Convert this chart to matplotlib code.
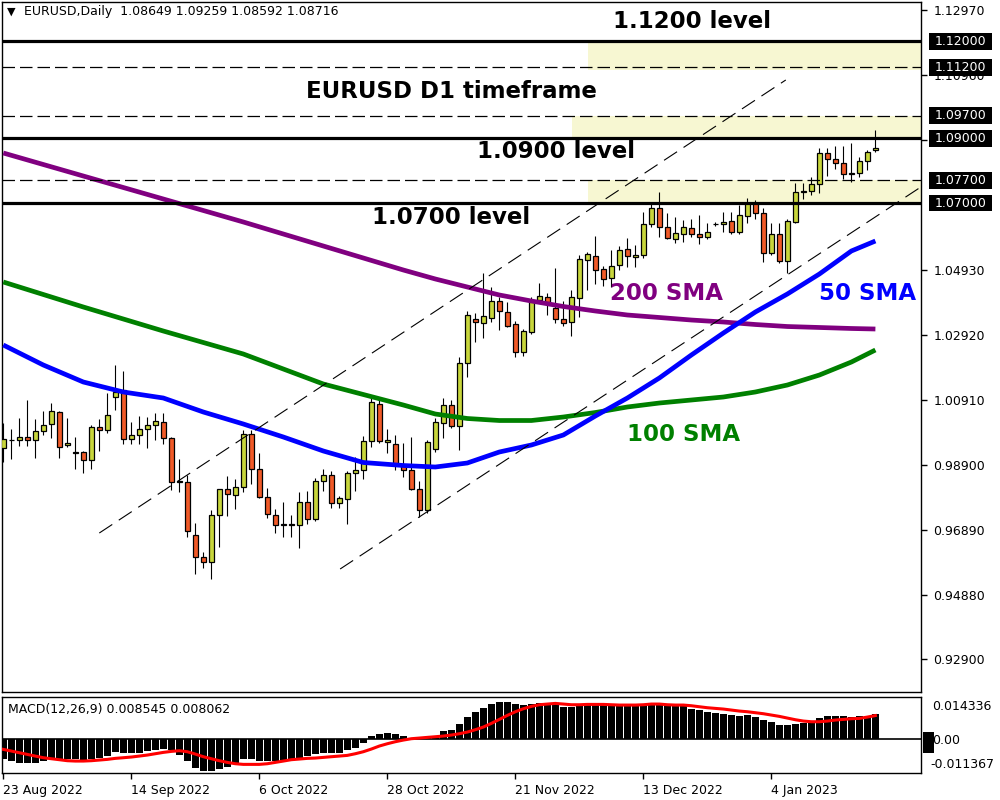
import matplotlib
matplotlib.use("Agg")
import matplotlib.pyplot as plt
from matplotlib.patches import Rectangle
from matplotlib.transforms import blended_transform_factory

plt.rcParams['font.family'] = ['DejaVu Sans']

# ---------------- data ----------------
header = "EURUSD,Daily  1.08649 1.09259 1.08592 1.08716"
macd_header = "MACD(12,26,9) 0.008545 0.008062"

opens = [0.9942,0.9968,0.9966,0.9975,0.9966,0.9994,1.0016,1.0054,0.9951,0.9929,
 0.9930,0.9904,1.0006,0.9997,1.0100,1.0122,0.9969,0.9983,1.0002,1.0014,
 1.0023,0.9974,0.9838,0.9837,0.9673,0.9606,0.9591,0.9734,0.9816,0.9797,
 0.9823,0.9986,0.9877,0.9790,0.9735,0.9705,0.9706,0.9703,0.9774,0.9722,
 0.9840,0.9858,0.9771,0.9784,0.9866,0.9873,0.9963,1.0079,0.9962,0.9955,
 0.9887,0.9874,0.9817,0.9751,0.9940,1.0019,1.0075,1.0011,1.0206,1.0340,
 1.0328,1.0346,1.0397,1.0363,1.0326,1.0240,1.0302,1.0399,1.0411,1.0374,
 1.0341,1.0331,1.0405,1.0525,1.0535,1.0496,1.0467,1.0507,1.0558,1.0533,
 1.0538,1.0636,1.0684,1.0625,1.0589,1.0604,1.0624,1.0604,1.0594,1.0634,
 1.0636,1.0646,1.0611,1.0661,1.0701,1.0668,1.0547,1.0603,1.0522,1.0640,
 1.0733,1.0736,1.0759,1.0854,1.0835,1.0823,1.0790,1.0793,1.0831,1.08649]

highs = [1.0019,1.0000,1.0034,1.0091,1.0031,1.0056,1.0081,1.0056,1.0034,0.9975,
 0.9932,1.0013,1.0031,1.0112,1.0198,1.0180,1.0024,1.0042,1.0037,1.0052,
 1.0050,0.9978,0.9908,0.9858,0.9709,0.9622,0.9751,0.9817,0.9855,0.9846,
 0.9999,0.9998,0.9926,0.9818,0.9753,0.9774,0.9735,0.9805,0.9809,0.9849,
 0.9877,0.9871,0.9794,0.9872,0.9916,0.9980,1.0101,1.0091,1.0000,0.9983,
 0.9957,0.9978,0.9841,0.9967,1.0034,1.0096,1.0091,1.0225,1.0366,1.0359,
 1.0483,1.0439,1.0411,1.0395,1.0335,1.0311,1.0410,1.0452,1.0421,1.0498,
 1.0397,1.0431,1.0539,1.0549,1.0598,1.0505,1.0555,1.0567,1.0591,1.0569,
 1.0673,1.0699,1.0735,1.0668,1.0658,1.0648,1.0650,1.0663,1.0637,1.0640,
 1.0673,1.0673,1.0694,1.0715,1.0710,1.0684,1.0637,1.0637,1.0650,1.0761,
 1.0761,1.0780,1.0869,1.0869,1.0877,1.0877,1.0887,1.0841,1.0864,1.09259]

lows = [0.9900,0.9909,0.9950,0.9950,0.9913,0.9982,0.9972,0.9910,0.9946,0.9877,
 0.9864,0.9877,0.9933,0.9990,1.0060,0.9956,0.9956,0.9956,0.9942,0.9966,
 0.9954,0.9813,0.9807,0.9666,0.9552,0.9571,0.9536,0.9635,0.9732,0.9753,
 0.9805,0.9831,0.9788,0.9725,0.9680,0.9668,0.9666,0.9633,0.9706,0.9718,
 0.9811,0.9756,0.9756,0.9706,0.9808,0.9848,0.9945,0.9957,0.9926,0.9874,
 0.9854,0.9813,0.9730,0.9740,0.9930,0.9973,1.0004,0.9936,1.0163,1.0271,
 1.0282,1.0331,1.0306,1.0316,1.0223,1.0227,1.0295,1.0390,1.0354,1.0330,
 1.0320,1.0289,1.0349,1.0431,1.0450,1.0443,1.0441,1.0493,1.0503,1.0501,
 1.0529,1.0627,1.0596,1.0588,1.0576,1.0581,1.0596,1.0573,1.0588,1.0630,
 1.0609,1.0604,1.0604,1.0639,1.0650,1.0519,1.0539,1.0516,1.0485,1.0637,
 1.0713,1.0725,1.0730,1.0784,1.0804,1.0774,1.0766,1.0782,1.0802,1.08592]

closes = [0.9969,0.9966,0.9975,0.9966,0.9996,1.0013,1.0056,0.9946,0.9958,0.9928,
 0.9904,1.0006,0.9997,1.0046,1.0117,0.9969,0.9983,1.0002,1.0013,1.0025,
 0.9974,0.9836,0.9840,0.9687,0.9606,0.9591,0.9735,0.9816,0.9799,0.9823,
 0.9986,0.9877,0.9790,0.9737,0.9703,0.9707,0.9703,0.9776,0.9722,0.9840,
 0.9858,0.9771,0.9787,0.9864,0.9874,0.9965,1.0084,0.9963,0.9967,0.9893,
 0.9874,0.9817,0.9751,0.9960,1.0022,1.0075,1.0011,1.0206,1.0354,1.0331,
 1.0351,1.0397,1.0365,1.0320,1.0240,1.0304,1.0400,1.0413,1.0394,1.0340,
 1.0328,1.0409,1.0526,1.0542,1.0493,1.0464,1.0505,1.0555,1.0537,1.0539,
 1.0634,1.0684,1.0627,1.0591,1.0606,1.0625,1.0604,1.0594,1.0611,1.0636,
 1.0640,1.0611,1.0663,1.0701,1.0668,1.0547,1.0603,1.0522,1.0645,1.0733,
 1.0736,1.0759,1.0854,1.0835,1.0824,1.0790,1.0794,1.0831,1.0857,1.08716]

# moving averages (bar index, price)
sma_bars = [0,10,20,30,40,50,54,58,62,66,70,74,78,82,86,90,94,98,102,106,109]
sma200 = [1.08549,1.07837,1.07126,1.06415,1.05672,1.04930,1.04652,1.04404,1.04157,1.03971,
          1.03801,1.03662,1.03538,1.03461,1.03383,1.03322,1.03244,1.03182,1.03152,1.03121,1.03105]
sma100 = [1.04559,1.03786,1.03043,1.02332,1.01404,1.00754,1.00476,1.00337,1.00275,1.00275,
          1.00383,1.00522,1.00693,1.00816,1.00909,1.01002,1.01157,1.01373,1.01682,1.02084,1.02456]
sma50_bars = [0,5,10,15,20,25,30,35,40,45,50,54,58,62,66,70,74,78,82,86,90,94,98,102,106,109]
sma50 = [1.02610,1.01992,1.01466,1.01157,1.00971,1.00538,1.00167,0.99765,0.99332,0.98976,
         0.98883,0.98837,0.98961,0.99301,0.99517,0.99827,1.00414,1.00971,1.01590,1.02301,
         1.02981,1.03631,1.04188,1.04806,1.05518,1.05827]

macd_main = [-0.00654,-0.00733,-0.00789,-0.00789,-0.00789,-0.00744,-0.00620,-0.00676,-0.00676,-0.00676,
 -0.00733,-0.00676,-0.00620,-0.00564,-0.00428,-0.00451,-0.00451,-0.00451,-0.00394,-0.00361,
 -0.00338,-0.00361,-0.00541,-0.00733,-0.00958,-0.01071,-0.01071,-0.00992,-0.00924,-0.00789,
 -0.00654,-0.00676,-0.00733,-0.00733,-0.00733,-0.00699,-0.00676,-0.00676,-0.00564,-0.00507,
 -0.00451,-0.00473,-0.00451,-0.00372,-0.00282,-0.00113,0.00113,0.00169,0.00203,0.00169,
 0.00113,0.00056,0.00056,0.00056,0.00113,0.00282,0.00316,0.00518,0.00755,0.00924,
 0.01059,0.01195,0.01262,0.01262,0.01195,0.01150,0.01195,0.01217,0.01217,0.01217,
 0.01093,0.01093,0.01150,0.01217,0.01217,0.01195,0.01150,0.01150,0.01150,0.01150,
 0.01150,0.01217,0.01217,0.01172,0.01150,0.01150,0.01037,0.00992,0.00924,0.00902,
 0.00868,0.00823,0.00789,0.00823,0.00766,0.00654,0.00586,0.00485,0.00485,0.00507,
 0.00564,0.00586,0.00710,0.00789,0.00789,0.00789,0.00755,0.00789,0.00789,0.00855]

macd_signal = [-0.00338,-0.00394,-0.00451,-0.00507,-0.00564,-0.00620,-0.00654,-0.00687,-0.00721,-0.00733,
 -0.00733,-0.00721,-0.00699,-0.00676,-0.00642,-0.00620,-0.00597,-0.00564,-0.00530,-0.00485,
 -0.00440,-0.00406,-0.00383,-0.00417,-0.00496,-0.00586,-0.00654,-0.00721,-0.00778,-0.00823,
 -0.00845,-0.00845,-0.00845,-0.00823,-0.00778,-0.00733,-0.00687,-0.00665,-0.00642,-0.00631,
 -0.00609,-0.00586,-0.00564,-0.00541,-0.00485,-0.00417,-0.00327,-0.00225,-0.00147,-0.00079,
 -0.00023,0.00023,0.00045,0.00068,0.00090,0.00113,0.00147,0.00192,0.00248,0.00327,
 0.00417,0.00541,0.00676,0.00811,0.00935,0.01037,0.01116,0.01172,0.01195,0.01217,
 0.01195,0.01172,0.01172,0.01183,0.01183,0.01183,0.01172,0.01161,0.01161,0.01161,
 0.01172,0.01195,0.01195,0.01172,0.01161,0.01161,0.01138,0.01104,0.01071,0.01048,
 0.01026,0.00992,0.00958,0.00935,0.00902,0.00868,0.00823,0.00778,0.00721,0.00665,
 0.00620,0.00597,0.00597,0.00620,0.00654,0.00676,0.00699,0.00710,0.00755,0.00806]

date_ticks = [0, 16, 32, 48, 64, 80, 96]
date_labels = ["23 Aug 2022", "14 Sep 2022", "6 Oct 2022", "28 Oct 2022",
               "21 Nov 2022", "13 Dec 2022", "4 Jan 2023"]

price_ticks = [1.12970, 1.10960, 1.08950, 1.04930, 1.02920,
               1.00910, 0.98900, 0.96890, 0.94880, 0.92900]
price_tick_labels = ["1.12970", "1.10960", "1.08950", "1.04930", "1.02920",
                     "1.00910", "0.98900", "0.96890", "0.94880", "0.92900"]

solid_levels = [1.1200, 1.0900, 1.0700]
dashed_levels = [1.1120, 1.0970, 1.0770]
level_boxes = [(1.1200, "1.12000"), (1.1120, "1.11200"), (1.0970, "1.09700"),
               (1.0900, "1.09000"), (1.0770, "1.07700"), (1.0700, "1.07000")]
zones = [(73.1, 1.1112, 1.1200), (71.1, 1.0900, 1.0970), (73.1, 1.0700, 1.0770)]
trend_lines = [((12.0, 0.96795), (97.8, 1.10807)),
               ((42.1, 0.95682), (114.7, 1.07500))]

# ---------------- figure ----------------
W, H = 1000, 800
fig = plt.figure(figsize=(10, 8), dpi=100)
fig.patch.set_facecolor('white')

def fx(px):
    return px / W

def fy(py):
    return 1 - py / H

ax = fig.add_axes([fx(2), fy(692), fx(921) - fx(2), fy(2) - fy(692)])
ax2 = fig.add_axes([fx(2), fy(773), fx(921) - fx(2), fy(697) - fy(773)])

XMIN, XMAX = -0.16, 114.7
ax.set_xlim(XMIN, XMAX)
ax.set_ylim(0.91878, 1.13219)
ax2.set_xlim(XMIN, XMAX)
ax2.set_ylim(-0.011367, 0.014336)

bull = '#c8d63c'
bear = '#f05a28'

# zones
for x0, lo, hi in zones:
    ax.add_patch(Rectangle((x0, lo), XMAX - x0, hi - lo, facecolor='#f7f7d2',
                           edgecolor='none', zorder=1))

# candles
n = min(len(opens), len(highs), len(lows), len(closes))
for i in range(n):
    o, h, l, c = opens[i], highs[i], lows[i], closes[i]
    ax.plot([i, i], [l, h], color='black', lw=0.8, zorder=3, solid_capstyle='butt')
    col = bull if c >= o else bear
    ax.add_patch(Rectangle((i - 0.31, min(o, c)), 0.62, abs(c - o), facecolor=col,
                           edgecolor='black', lw=0.9, zorder=4))

# SMAs
ax.plot(sma_bars, sma200, color='#800080', lw=3.4, zorder=5, solid_capstyle='butt')
ax.plot(sma_bars, sma100, color='#008000', lw=3.4, zorder=5, solid_capstyle='butt')
ax.plot(sma50_bars, sma50, color='#0000ff', lw=3.4, zorder=5, solid_capstyle='butt')

# levels
for lv in solid_levels:
    ax.axhline(lv, color='black', lw=2.3, zorder=6)
for lv in dashed_levels:
    ax.axhline(lv, color='black', lw=0.9, ls=(0, (10, 4)), zorder=6)
for (x0, y0), (x1, y1) in trend_lines:
    ax.plot([x0, x1], [y0, y1], color='black', lw=0.8, ls=(0, (14, 7)), zorder=6)

# axes styling
for a in (ax, ax2):
    for s in a.spines.values():
        s.set_color('black')
        s.set_linewidth(1.0)
ax.set_xticks([])
ax.yaxis.tick_right()
ax.set_yticks(price_ticks)
ax.set_yticklabels(price_tick_labels)
ax.tick_params(axis='y', length=4, width=1, pad=5, labelsize=9, colors='black')

# right side level boxes
tr = blended_transform_factory(fig.transFigure, ax.transData)
box_h = 0.0052
for lv, txt in level_boxes:
    ax.add_patch(Rectangle((fx(929), lv - box_h / 2), fx(992) - fx(929), box_h,
                           transform=tr, facecolor='black', edgecolor='none',
                           clip_on=False, zorder=20))
    ax.text(fx(960.5), lv, txt, transform=tr, color='white', fontsize=9,
            ha='center', va='center', clip_on=False, zorder=21)

# big labels
big = dict(fontsize=16.5, fontweight='bold', ha='center', va='center')
fig.text(fx(692), fy(21), "1.1200 level", color='black', **big)
fig.text(fx(451), fy(91), "EURUSD D1 timeframe", color='black', **big)
fig.text(fx(556), fy(151), "1.0900 level", color='black', **big)
fig.text(fx(451), fy(218), "1.0700 level", color='black', **big)
fig.text(fx(667), fy(293), "200 SMA", color='#800080', **big)
fig.text(fx(868), fy(293), "50 SMA", color='#0000ff', **big)
fig.text(fx(684), fy(435), "100 SMA", color='#008000', **big)

# header
fig.text(fx(7), fy(12), "\u25BC", fontsize=8, ha='left', va='center', color='black')
fig.text(fx(24), fy(12), header, fontsize=9, ha='left', va='center', color='black')

# MACD
xs = list(range(len(macd_main)))
ax2.bar(xs, macd_main, width=0.86, color='black', zorder=3)
ax2.plot(list(range(len(macd_signal))), macd_signal, color='red', lw=2.2, zorder=4)
ax2.axhline(0, color='black', lw=1.2, zorder=2)
ax2.set_yticks([])
ax2.set_xticks(date_ticks)
ax2.set_xticklabels(date_labels)
for lbl in ax2.get_xticklabels():
    lbl.set_horizontalalignment('left')
ax2.tick_params(axis='x', length=4, width=1, pad=4, labelsize=9, colors='black')
fig.text(fx(8), fy(709), macd_header, fontsize=9, ha='left', va='center', color='black')
fig.text(fx(932), fy(706), "0.014336", fontsize=9, ha='left', va='center')
fig.text(fx(932), fy(740), "0.00", fontsize=9, ha='left', va='center')
fig.text(fx(930), fy(764), "-0.011367", fontsize=9, ha='left', va='center')
fig.patches.append(Rectangle((fx(923), fy(753)), fx(934) - fx(923), fy(732) - fy(753),
                             transform=fig.transFigure, facecolor='black',
                             edgecolor='none', zorder=5))

fig.savefig("out.png", dpi=100)
